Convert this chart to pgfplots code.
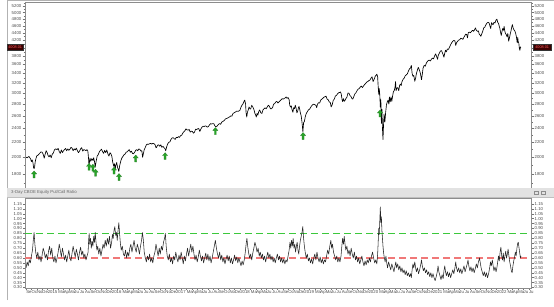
\documentclass[border=0pt]{standalone}
\usepackage{fontspec}
\setmainfont{Liberation Sans}
\usepackage{pgfplots}
\pgfplotsset{compat=1.18}

\definecolor{band}{RGB}{226,226,226}
\definecolor{sigg}{RGB}{40,165,40}
\definecolor{pcred}{RGB}{240,120,120}
\definecolor{boxbg}{RGB}{60,0,0}
\definecolor{boxtx}{RGB}{255,90,90}

\pgfdeclareplotmark{uparrow}{%
  \pgfpathmoveto{\pgfpoint{0pt}{0pt}}%
  \pgfpathlineto{\pgfpoint{2.6pt}{-3pt}}%
  \pgfpathlineto{\pgfpoint{1pt}{-3pt}}%
  \pgfpathlineto{\pgfpoint{1pt}{-7pt}}%
  \pgfpathlineto{\pgfpoint{-1pt}{-7pt}}%
  \pgfpathlineto{\pgfpoint{-1pt}{-3pt}}%
  \pgfpathlineto{\pgfpoint{-2.6pt}{-3pt}}%
  \pgfpathclose
  \pgfusepathqfillstroke}

\pgfplotsset{
  panel/.style={scale only axis, width=506pt, xmin=7.8, xmax=102.43,
    axis line style={black!45, line width=0.5pt},
    tick style={black!55, line width=0.4pt}, tick align=outside,
    major tick length=2.5pt, minor tick length=1.5pt,
    ticklabel style={font=\fontsize{4.3}{5}\selectfont, text=black!70, inner sep=1pt},
    /pgf/number format/assume math mode=true},
}

\begin{document}
\begin{tikzpicture}
\useasboundingbox (0,0) rectangle (554pt,306pt);
\fill[white] (0,0) rectangle (554pt,306pt);
\draw[black!30, line width=0.6pt] (7pt,6pt) -- (7pt,306pt);
\draw[black!30, line width=0.6pt] (7pt,305.5pt) -- (554pt,305.5pt);

% ---------- top panel: index ----------
\begin{axis}[panel, at={(25pt,118pt)}, anchor=south west, height=186pt,
  ymode=log, ymin=1647, ymax=5346,
  ytick={1800,2000,2200,2400,2600,2800,3000,3200,3400,3600,3800,4000,4200,4400,4600,4800,5000,5200},
  yticklabels={1800,2000,2200,2400,2600,2800,3000,3200,3400,3600,3800,,4200,4400,4600,4800,5000,5200},
  minor ytick={1700,1900,2100,2300,2500,2700,2900,3100,3300,3500,3700,3900,4100,4300,4500,4700,4900,5100,5300},
  xtick=\empty, ytick pos=left]
\addplot[black, line width=0.65pt, line join=round] coordinates {
(8.0,2002)(8.2,1995)(8.4,2005)(8.55,2011)(8.7,1995)(8.85,1980)(9.0,1946)(9.15,1968)(9.3,1930)(9.4,1874)(9.5,1862)(9.6,1885)(9.7,1940)(9.85,1985)(10.0,2018)(10.2,2025)(10.5,2048)(10.8,2070)(11.0,2065)(11.2,2040)(11.4,1990)(11.55,2035)(11.75,2085)(11.95,2060)(12.1,2025)(12.3,2005)(12.5,2030)(12.7,1995)(12.9,2040)(13.1,2055)(13.3,2095)(13.5,2110)(13.8,2100)(14.0,2115)(14.2,2075)(14.4,2050)(14.6,2095)(14.8,2060)(15.0,2085)(15.2,2100)(15.4,2115)(15.6,2085)(15.8,2110)(16.0,2090)(16.2,2105)(16.4,2130)(16.6,2120)(16.8,2085)(17.0,2110)(17.2,2095)(17.4,2120)(17.6,2085)(17.8,2060)(18.0,2080)(18.2,2110)(18.4,2125)(18.6,2080)(18.8,2100)(19.0,2095)(19.2,2085)(19.4,2100)(19.55,2080)(19.62,2035)(19.7,1970)(19.77,1893)(19.85,1940)(19.95,1990)(20.1,1950)(20.3,1985)(20.5,1960)(20.65,1995)(20.8,1945)(20.93,1882)(21.1,1950)(21.3,2015)(21.5,2035)(21.7,2070)(21.9,2090)(22.1,2105)(22.3,2075)(22.5,2050)(22.7,2090)(22.9,2060)(23.1,2095)(23.3,2045)(23.5,2015)(23.7,2060)(23.9,2040)(24.05,2010)(24.2,1940)(24.4,1890)(24.55,1920)(24.65,1855)(24.8,1905)(24.95,1935)(25.1,1880)(25.25,1850)(25.35,1829)(25.5,1895)(25.7,1950)(25.9,1990)(26.1,2010)(26.3,2030)(26.5,2040)(26.7,2065)(26.9,2070)(27.1,2085)(27.3,2100)(27.5,2065)(27.7,2080)(27.9,2050)(28.1,2045)(28.3,2065)(28.5,2090)(28.7,2100)(28.9,2085)(29.1,2110)(29.3,2100)(29.5,2080)(29.65,2085)(29.8,2000)(29.9,2035)(30.1,2100)(30.3,2130)(30.5,2165)(30.7,2175)(30.9,2170)(31.1,2180)(31.3,2185)(31.5,2175)(31.7,2185)(31.9,2180)(32.1,2170)(32.3,2125)(32.4,2130)(32.6,2160)(32.8,2165)(33.0,2145)(33.2,2165)(33.4,2130)(33.6,2145)(33.8,2125)(34.0,2110)(34.12,2085)(34.3,2140)(34.5,2180)(34.7,2200)(34.9,2205)(35.1,2240)(35.3,2260)(35.5,2265)(35.7,2250)(35.9,2240)(36.1,2270)(36.3,2265)(36.5,2280)(36.7,2270)(36.9,2295)(37.1,2300)(37.3,2330)(37.5,2350)(37.7,2365)(37.9,2395)(38.1,2380)(38.3,2375)(38.5,2385)(38.7,2345)(38.9,2360)(39.1,2355)(39.3,2330)(39.5,2345)(39.7,2390)(39.9,2385)(40.1,2395)(40.3,2400)(40.5,2355)(40.7,2395)(40.9,2420)(41.1,2435)(41.3,2430)(41.5,2440)(41.7,2435)(41.9,2420)(42.1,2430)(42.3,2455)(42.5,2475)(42.7,2470)(42.9,2475)(43.1,2475)(43.3,2440)(43.45,2430)(43.6,2425)(43.8,2445)(44.0,2465)(44.2,2475)(44.4,2465)(44.6,2500)(44.8,2510)(45.0,2520)(45.3,2550)(45.6,2560)(45.9,2575)(46.1,2585)(46.3,2600)(46.5,2595)(46.7,2640)(46.9,2650)(47.1,2660)(47.4,2680)(47.7,2675)(48.0,2695)(48.2,2750)(48.4,2785)(48.6,2810)(48.8,2860)(48.9,2873)(49.05,2800)(49.15,2650)(49.27,2581)(49.4,2660)(49.55,2700)(49.7,2750)(49.85,2720)(50.0,2715)(50.2,2780)(50.4,2750)(50.6,2710)(50.8,2640)(50.95,2610)(51.05,2581)(51.2,2640)(51.35,2610)(51.5,2670)(51.7,2700)(51.9,2650)(52.1,2640)(52.3,2700)(52.5,2720)(52.7,2735)(52.9,2720)(53.1,2750)(53.3,2780)(53.5,2765)(53.7,2720)(53.9,2720)(54.1,2740)(54.3,2800)(54.5,2810)(54.7,2840)(54.9,2850)(55.1,2820)(55.3,2840)(55.5,2860)(55.7,2880)(55.9,2900)(56.1,2890)(56.3,2905)(56.5,2915)(56.65,2930)(56.8,2905)(57.0,2920)(57.2,2880)(57.3,2785)(57.45,2750)(57.6,2770)(57.75,2700)(57.9,2660)(58.05,2740)(58.2,2720)(58.35,2780)(58.5,2730)(58.65,2650)(58.8,2680)(58.95,2740)(59.05,2760)(59.15,2720)(59.3,2650)(59.45,2600)(59.6,2500)(59.77,2351)(59.9,2490)(60.05,2510)(60.2,2580)(60.4,2640)(60.6,2670)(60.8,2700)(61.0,2710)(61.2,2740)(61.4,2770)(61.6,2790)(61.8,2800)(62.0,2790)(62.2,2780)(62.35,2740)(62.5,2800)(62.7,2825)(62.9,2820)(63.1,2870)(63.3,2890)(63.5,2905)(63.7,2925)(63.9,2935)(64.1,2945)(64.3,2890)(64.5,2880)(64.7,2840)(64.9,2830)(65.05,2750)(65.25,2790)(65.45,2870)(65.65,2890)(65.85,2950)(66.05,2960)(66.25,2990)(66.45,3010)(66.65,3015)(66.8,3025)(66.95,2980)(67.1,2880)(67.2,2845)(67.35,2900)(67.5,2850)(67.65,2870)(67.8,2900)(68.0,2925)(68.2,3005)(68.4,3000)(68.55,2960)(68.75,2940)(68.95,2900)(69.1,2890)(69.3,2940)(69.5,2990)(69.7,3010)(69.9,3050)(70.1,3080)(70.3,3090)(70.5,3120)(70.7,3140)(70.9,3110)(71.1,3140)(71.3,3170)(71.5,3190)(71.7,3220)(71.9,3230)(72.1,3250)(72.3,3260)(72.5,3300)(72.7,3330)(72.9,3230)(73.1,3280)(73.3,3340)(73.5,3370)(73.6,3386)(73.75,3330)(73.85,3130)(73.95,2980)(74.05,3090)(74.15,2970)(74.25,2750)(74.35,2880)(74.45,2480)(74.55,2710)(74.65,2400)(74.75,2237)(74.85,2450)(74.95,2630)(75.1,2500)(75.25,2660)(75.4,2790)(75.55,2840)(75.7,2870)(75.85,2800)(75.95,2930)(76.1,2840)(76.25,2930)(76.4,2850)(76.55,2950)(76.7,3030)(76.85,3050)(77.0,3120)(77.1,3230)(77.2,3050)(77.35,3100)(77.5,3110)(77.7,3050)(77.85,3150)(78.0,3180)(78.15,3150)(78.3,3230)(78.5,3275)(78.7,3300)(78.9,3350)(79.1,3370)(79.3,3390)(79.5,3450)(79.7,3500)(79.9,3520)(80.05,3580)(80.2,3400)(80.35,3340)(80.5,3360)(80.7,3237)(80.85,3300)(81.0,3400)(81.2,3480)(81.35,3534)(81.55,3480)(81.75,3400)(81.95,3270)(82.1,3380)(82.25,3520)(82.45,3580)(82.65,3560)(82.85,3630)(83.0,3660)(83.2,3690)(83.4,3700)(83.6,3680)(83.8,3720)(84.0,3750)(84.2,3730)(84.4,3800)(84.6,3850)(84.8,3780)(84.95,3720)(85.1,3820)(85.3,3870)(85.5,3920)(85.7,3930)(85.85,3880)(86.0,3830)(86.15,3770)(86.3,3870)(86.45,3940)(86.6,3900)(86.8,3970)(87.0,3960)(87.2,4020)(87.4,4080)(87.6,4130)(87.8,4170)(88.0,4190)(88.2,4180)(88.35,4060)(88.5,4130)(88.7,4170)(88.9,4200)(89.1,4210)(89.3,4250)(89.5,4240)(89.7,4220)(89.85,4270)(90.0,4300)(90.2,4360)(90.4,4350)(90.55,4260)(90.7,4400)(90.9,4420)(91.1,4400)(91.3,4440)(91.5,4470)(91.7,4440)(91.9,4490)(92.05,4537)(92.2,4470)(92.4,4440)(92.6,4450)(92.75,4360)(92.9,4340)(93.05,4300)(93.2,4360)(93.4,4440)(93.6,4540)(93.8,4560)(94.0,4630)(94.2,4680)(94.4,4700)(94.6,4680)(94.75,4590)(94.9,4520)(95.05,4690)(95.2,4650)(95.35,4630)(95.5,4700)(95.7,4680)(95.85,4760)(96.05,4797)(96.2,4700)(96.35,4670)(96.5,4580)(96.6,4530)(96.75,4400)(96.87,4326)(97.0,4430)(97.15,4520)(97.3,4470)(97.4,4580)(97.5,4470)(97.65,4380)(97.8,4350)(97.95,4290)(98.1,4380)(98.25,4170)(98.4,4260)(98.55,4370)(98.7,4460)(98.85,4580)(98.95,4631)(99.1,4530)(99.25,4480)(99.4,4450)(99.55,4390)(99.7,4290)(99.85,4130)(99.95,4270)(100.05,4150)(100.15,4120)(100.25,3990)(100.35,3935)(100.45,4023)(100.56,4008)
};
\addplot[only marks, mark=uparrow, mark options={fill=sigg, draw=sigg!70!black, line width=0.2pt}] coordinates {
(9.5,1835)(19.77,1925)(20.5,1915)(21.0,1855)(24.45,1880)(25.38,1805)(28.5,2030)(34.0,2060)(43.4,2415)(59.8,2340)(74.2,2700)
};
\coordinate (pl) at (axis cs:7.8,4008);
\coordinate (pr) at (axis cs:102.43,4008);
\end{axis}
\begin{axis}[panel, at={(25pt,118pt)}, anchor=south west, height=186pt,
  ymode=log, ymin=1647, ymax=5346,
  ytick={1800,2000,2200,2400,2600,2800,3000,3200,3400,3600,3800,4000,4200,4400,4600,4800,5000,5200},
  yticklabels={1800,2000,2200,2400,2600,2800,3000,3200,3400,3600,3800,,4200,4400,4600,4800,5000,5200},
  minor ytick={1700,1900,2100,2300,2500,2700,2900,3100,3300,3500,3700,3900,4100,4300,4500,4700,4900,5100,5300},
  hide x axis, axis y line*=right, xtick=\empty]
\addplot[draw=none] coordinates {(50,3000)};
\end{axis}
\node[anchor=east, xshift=-2pt, fill=boxbg, text=boxtx, font=\fontsize{3.8}{4}\selectfont, inner sep=0.8pt, minimum width=15pt, minimum height=6pt, draw=black!80, line width=0.3pt] at (pl) {4008.01};
\node[anchor=west, xshift=2pt, fill=boxbg, text=boxtx, font=\fontsize{3.8}{4}\selectfont, inner sep=0.8pt, minimum width=18pt, minimum height=6pt, draw=black!80, line width=0.3pt] at (pr) {4008.01};

% ---------- title band ----------
\fill[band] (7pt,109pt) rectangle (554pt,118pt);
\draw[black!25, line width=0.3pt] (7pt,109pt) -- (554pt,109pt);
\node[anchor=west, font=\fontsize{4.3}{5}\selectfont, text=black!60, inner sep=0pt] at (11pt,113.5pt) {3-Day CBOE Equity Put/Call Ratio};
\draw[black!45, line width=0.3pt] (534.5pt,111.8pt) rectangle (538pt,115.2pt);
\draw[black!45, line width=0.3pt] (541.5pt,111.8pt) rectangle (545pt,115.2pt);

% ---------- bottom panel: put/call ratio ----------
\begin{axis}[panel, at={(25pt,18pt)}, anchor=south west, height=90pt,
  ymin=0.295, ymax=1.21,
  ytick={0.30,0.35,0.40,0.45,0.50,0.55,0.60,0.65,0.70,0.75,0.80,0.85,0.90,0.95,1.00,1.05,1.10,1.15},
  yticklabels={0.30,0.35,0.40,0.45,0.50,0.55,0.60,0.65,0.70,0.75,0.80,0.85,0.90,0.95,1.00,1.05,1.10,1.15},
  ytick pos=left, xtick pos=bottom,
  xtick={8,9,...,102},
  xticklabels={Se,Oc,No,De,
    2015,,Ma,Ap,Ma,Ju,Ju,Au,Se,Oc,No,De,
    2016,,Ma,Ap,Ma,Ju,Ju,Au,Se,Oc,No,De,
    2017,,Ma,Ap,Ma,Ju,Ju,Au,Se,Oc,No,De,
    2018,,Ma,Ap,Ma,Ju,Ju,Au,Se,Oc,No,De,
    2019,,Ma,Ap,Ma,Ju,Ju,Au,Se,Oc,No,De,
    2020,,Ma,Ap,Ma,Ju,Ju,Au,Se,Oc,No,De,
    2021,,Ma,Ap,Ma,Ju,Ju,Au,Se,Oc,No,De,
    2022,,Ma,Ap,Ma,Ju,Ju},
  xticklabel style={anchor=north west, xshift=-0.5pt, inner sep=0.6pt},
  major tick length=1.8pt]
\addplot[draw=pcred, line width=1.2pt, dash pattern=on 7pt off 4pt] coordinates {(7.8,0.60) (102.43,0.60)};
\addplot[mark=none, solid, color={rgb,255:red,60;green,200;blue,60}, line width=1.3pt, dash pattern=on 7pt off 4pt] coordinates {(7.8,0.85) (102.43,0.85)};
\addplot[black!85, line width=0.55pt, line join=round] coordinates {
(8.0,0.50)(8.2,0.56)(8.4,0.52)(8.6,0.58)(8.8,0.55)(9.0,0.62)(9.2,0.68)(9.35,0.78)(9.5,0.86)(9.65,0.74)(9.8,0.66)(10.0,0.60)(10.2,0.66)(10.4,0.58)(10.6,0.62)(10.8,0.56)(11.0,0.63)(11.2,0.70)(11.4,0.66)(11.6,0.60)(11.8,0.64)(12.0,0.58)
(12.2,0.67)(12.4,0.72)(12.6,0.63)(12.8,0.70)(13.0,0.60)(13.2,0.56)(13.4,0.62)(13.6,0.55)(13.8,0.60)(14.0,0.66)(14.2,0.74)(14.4,0.68)(14.6,0.61)(14.8,0.70)(15.0,0.64)(15.2,0.58)(15.4,0.63)(15.6,0.56)(15.8,0.62)(16.0,0.68)(16.2,0.60)(16.4,0.57)(16.6,0.65)(16.8,0.72)(17.0,0.66)(17.2,0.61)(17.4,0.69)(17.6,0.64)(17.8,0.58)(18.0,0.66)(18.2,0.71)(18.4,0.63)(18.6,0.67)(18.8,0.60)(19.0,0.64)(19.2,0.58)(19.4,0.62)(19.6,0.66)
(19.7,0.78)(19.8,0.85)(19.9,0.74)(20.05,0.80)(20.2,0.70)(20.35,0.77)(20.5,0.72)(20.65,0.82)(20.8,0.76)(20.93,0.86)(21.1,0.75)(21.25,0.68)(21.4,0.72)(21.6,0.64)(21.8,0.70)(22.0,0.62)(22.2,0.68)(22.4,0.74)(22.6,0.70)(22.8,0.78)(23.0,0.72)(23.2,0.80)(23.4,0.74)(23.6,0.82)(23.8,0.70)(24.0,0.76)(24.15,0.84)(24.3,0.80)(24.45,0.88)(24.6,0.92)(24.75,0.83)(24.9,0.86)(25.05,0.78)(25.2,0.88)(25.35,0.96)(25.5,0.84)(25.65,0.74)(25.8,0.68)(26.0,0.72)(26.2,0.64)(26.4,0.62)(26.6,0.68)(26.8,0.60)(27.0,0.66)(27.2,0.62)(27.4,0.70)(27.6,0.74)(27.8,0.66)(28.0,0.72)(28.2,0.78)(28.4,0.70)(28.6,0.66)(28.8,0.74)(29.0,0.70)(29.2,0.64)(29.4,0.72)(29.6,0.78)(29.75,0.86)(29.9,0.80)(30.1,0.66)(30.3,0.60)(30.5,0.56)(30.7,0.62)(30.9,0.58)(31.1,0.64)(31.3,0.56)(31.5,0.60)(31.7,0.55)(31.9,0.62)(32.1,0.66)(32.3,0.74)(32.5,0.68)(32.7,0.62)(32.9,0.70)(33.1,0.64)(33.3,0.72)(33.5,0.68)(33.7,0.76)(33.9,0.80)(34.05,0.85)(34.2,0.72)(34.4,0.62)(34.6,0.58)(34.8,0.64)(35.0,0.56)(35.2,0.60)(35.4,0.54)(35.6,0.62)(35.8,0.58)(36.0,0.66)
(36.2,0.60)(36.4,0.56)(36.6,0.63)(36.8,0.58)(37.0,0.66)(37.2,0.60)(37.4,0.54)(37.6,0.62)(37.8,0.57)(38.0,0.64)(38.2,0.70)(38.4,0.62)(38.6,0.68)(38.8,0.74)(39.0,0.66)(39.2,0.72)(39.4,0.64)(39.6,0.58)(39.8,0.63)(40.0,0.56)(40.2,0.61)(40.4,0.68)(40.6,0.62)(40.8,0.57)(41.0,0.62)(41.2,0.55)(41.4,0.60)(41.6,0.65)(41.8,0.58)(42.0,0.64)(42.2,0.57)(42.4,0.62)(42.6,0.55)(42.8,0.60)(43.0,0.66)(43.2,0.72)(43.4,0.78)(43.6,0.70)(43.8,0.64)(44.0,0.60)(44.2,0.66)(44.4,0.58)(44.6,0.63)(44.8,0.56)(45.0,0.60)(45.2,0.54)(45.4,0.59)(45.6,0.63)(45.8,0.57)(46.0,0.62)(46.2,0.55)(46.4,0.60)(46.6,0.54)(46.8,0.58)(47.0,0.63)(47.2,0.57)(47.4,0.61)(47.6,0.55)(47.8,0.60)(48.0,0.56)
(48.2,0.52)(48.4,0.57)(48.6,0.53)(48.8,0.58)(49.0,0.66)(49.15,0.74)(49.3,0.80)(49.45,0.72)(49.6,0.66)(49.8,0.60)(50.0,0.64)(50.2,0.58)(50.4,0.65)(50.6,0.70)(50.8,0.76)(51.0,0.72)(51.2,0.66)(51.4,0.70)(51.6,0.62)(51.8,0.66)(52.0,0.60)(52.2,0.64)(52.4,0.58)(52.6,0.62)(52.8,0.56)(53.0,0.61)(53.2,0.66)(53.4,0.60)(53.6,0.64)(53.8,0.58)(54.0,0.62)(54.2,0.56)(54.4,0.60)(54.6,0.55)(54.8,0.60)(55.0,0.64)(55.2,0.58)(55.4,0.62)(55.6,0.56)(55.8,0.60)(56.0,0.55)(56.2,0.59)(56.4,0.54)(56.6,0.58)(56.8,0.56)(57.0,0.62)(57.2,0.68)(57.35,0.76)(57.5,0.70)(57.65,0.78)(57.8,0.72)(57.95,0.80)(58.1,0.70)(58.25,0.74)(58.4,0.66)(58.55,0.72)(58.7,0.76)(58.85,0.68)(59.0,0.64)(59.15,0.72)(59.3,0.78)(59.45,0.82)(59.6,0.86)(59.75,0.92)(59.9,0.80)(60.05,0.72)
(60.2,0.66)(60.4,0.60)(60.6,0.64)(60.8,0.57)(61.0,0.60)(61.2,0.55)(61.4,0.59)(61.6,0.54)(61.8,0.60)(62.0,0.64)(62.2,0.58)(62.4,0.66)(62.6,0.60)(62.8,0.56)(63.0,0.61)(63.2,0.55)(63.4,0.59)(63.6,0.54)(63.8,0.58)(64.0,0.56)(64.2,0.62)(64.4,0.68)(64.6,0.64)(64.8,0.72)(65.0,0.78)(65.15,0.70)(65.3,0.74)(65.5,0.66)(65.7,0.62)(65.9,0.58)(66.1,0.62)(66.3,0.56)(66.5,0.60)(66.7,0.56)(66.9,0.62)(67.05,0.72)(67.2,0.80)(67.35,0.74)(67.5,0.82)(67.65,0.74)(67.8,0.68)(68.0,0.72)(68.2,0.64)(68.4,0.68)(68.6,0.62)(68.8,0.70)(69.0,0.64)(69.2,0.60)(69.4,0.66)(69.6,0.58)(69.8,0.62)(70.0,0.56)(70.2,0.60)(70.4,0.54)(70.6,0.58)(70.8,0.62)(71.0,0.56)(71.2,0.52)(71.4,0.57)(71.6,0.53)(71.8,0.58)(72.0,0.55)
(72.2,0.60)(72.4,0.56)(72.6,0.62)(72.8,0.66)(73.0,0.60)(73.2,0.55)(73.4,0.58)(73.6,0.54)(73.75,0.64)(73.85,0.76)(73.95,0.90)(74.05,0.84)(74.15,0.98)(74.25,1.12)(74.35,0.96)(74.45,1.02)(74.55,0.88)(74.65,0.80)(74.75,0.72)(74.85,0.66)(75.0,0.60)(75.15,0.56)(75.3,0.62)(75.45,0.55)(75.6,0.50)(75.8,0.56)(76.0,0.52)(76.2,0.48)(76.4,0.54)(76.6,0.50)(76.8,0.46)(77.0,0.52)(77.15,0.56)(77.3,0.50)(77.5,0.54)(77.7,0.48)(77.9,0.52)(78.1,0.46)(78.3,0.50)(78.5,0.45)(78.7,0.48)(78.9,0.43)(79.1,0.47)(79.3,0.42)(79.5,0.45)(79.7,0.41)(79.9,0.44)(80.05,0.40)(80.2,0.48)(80.35,0.54)(80.5,0.50)(80.7,0.56)(80.85,0.50)(81.0,0.46)(81.2,0.50)(81.4,0.44)(81.6,0.48)(81.8,0.53)(81.95,0.58)(82.1,0.52)(82.3,0.47)(82.5,0.50)(82.7,0.45)(82.9,0.48)(83.1,0.43)(83.3,0.46)(83.5,0.41)(83.7,0.45)(83.9,0.40)(84.1,0.44)
(84.3,0.40)(84.5,0.37)(84.7,0.41)(84.9,0.46)(85.05,0.52)(85.2,0.46)(85.4,0.42)(85.6,0.38)(85.8,0.43)(86.0,0.39)(86.15,0.47)(86.3,0.52)(86.45,0.46)(86.6,0.42)(86.8,0.46)(87.0,0.41)(87.2,0.45)(87.4,0.40)(87.6,0.44)(87.8,0.48)(88.0,0.44)(88.2,0.50)(88.35,0.56)(88.5,0.50)(88.7,0.46)(88.9,0.50)(89.1,0.45)(89.3,0.49)(89.5,0.44)(89.7,0.48)(89.9,0.52)(90.1,0.46)(90.3,0.50)(90.5,0.54)(90.65,0.58)(90.8,0.52)(91.0,0.47)(91.2,0.51)(91.4,0.46)(91.6,0.50)(91.8,0.45)(92.0,0.49)(92.2,0.54)(92.4,0.50)(92.6,0.56)(92.8,0.60)(92.95,0.55)(93.1,0.50)(93.3,0.46)(93.5,0.42)(93.7,0.46)(93.9,0.41)(94.1,0.45)(94.3,0.40)(94.5,0.44)(94.7,0.50)(94.85,0.56)(95.0,0.52)(95.2,0.58)(95.35,0.52)(95.5,0.47)(95.7,0.51)(95.9,0.46)(96.05,0.50)
(96.2,0.56)(96.35,0.62)(96.5,0.57)(96.65,0.66)(96.8,0.71)(96.95,0.62)(97.1,0.58)(97.25,0.65)(97.4,0.56)(97.55,0.62)(97.7,0.67)(97.85,0.60)(98.0,0.64)(98.15,0.69)(98.3,0.62)(98.45,0.56)(98.6,0.52)(98.75,0.47)(98.9,0.45)(99.05,0.52)(99.2,0.57)(99.35,0.61)(99.5,0.66)(99.65,0.62)(99.8,0.70)(99.95,0.75)(100.05,0.76)(100.2,0.70)(100.35,0.64)(100.45,0.60)(100.56,0.62)
};
\end{axis}
\begin{axis}[panel, at={(25pt,18pt)}, anchor=south west, height=90pt,
  ymin=0.295, ymax=1.21,
  ytick={0.30,0.35,0.40,0.45,0.50,0.55,0.60,0.65,0.70,0.75,0.80,0.85,0.90,0.95,1.00,1.05,1.10,1.15},
  yticklabels={0.30,0.35,0.40,0.45,0.50,0.55,0.60,0.65,0.70,0.75,0.80,0.85,0.90,0.95,1.00,1.05,1.10,1.15},
  hide x axis, axis y line*=right, xtick=\empty]
\addplot[draw=none] coordinates {(50,0.5)};
\end{axis}
\end{tikzpicture}
\end{document}
